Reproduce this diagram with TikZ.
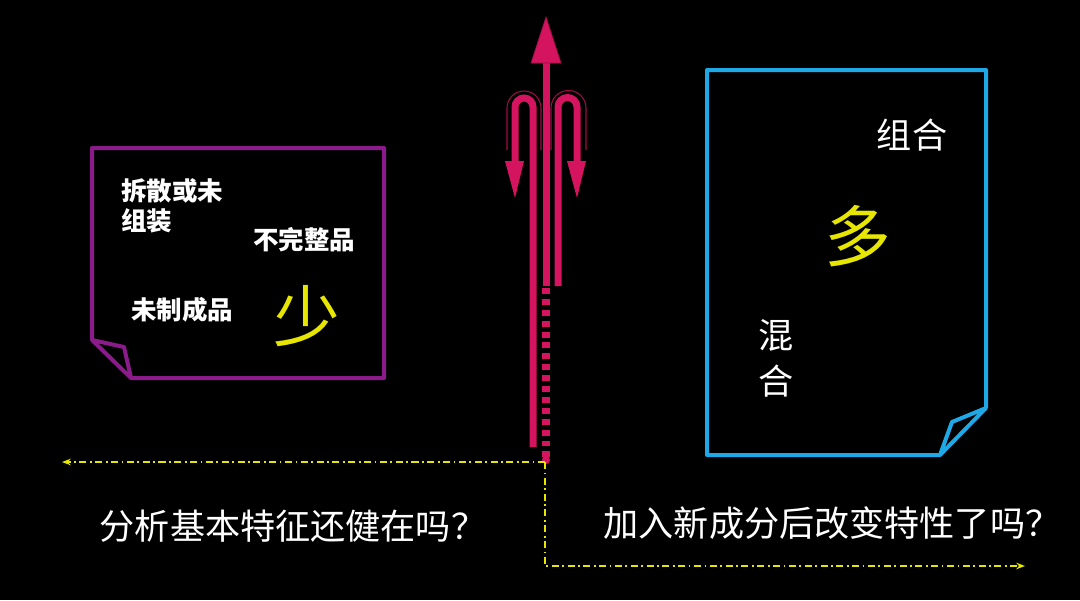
\documentclass[tikz,border=0pt]{standalone}
\usepackage{fontspec}
\newfontfamily\cjk{Noto Sans CJK SC}
\usetikzlibrary{arrows.meta}
\definecolor{mag}{HTML}{D4145F}
\definecolor{magd}{HTML}{A00C48}
\definecolor{pur}{HTML}{8B1A8B}
\definecolor{cya}{HTML}{1EA8E6}
\definecolor{yel}{HTML}{E6E600}
\tikzset{
 lbl/.style={text=white,font=\cjk\bfseries\fontsize{14.5}{17}\selectfont,align=left,inner sep=0pt},
 lbl2/.style={text=white,font=\cjk\fontsize{20}{24}\selectfont,align=center,inner sep=0pt},
 big/.style={text=yel,font=\cjk\fontsize{38}{42}\selectfont,inner sep=0pt},
 guide/.style={yel,line width=0.7pt,dash pattern=on 4pt off 2pt on 1pt off 2pt},
 band/.style={mag,line width=7*0.02cm},
 head/.style={fill=mag,draw=magd,line width=0.4pt}
}
\begin{document}
\begin{tikzpicture}[x=0.02cm,y=-0.02cm]
\fill[black] (0,0) rectangle (1080,600);
\useasboundingbox (0,0) rectangle (1080,600);
% left box
\draw[pur,line width=4*0.02cm,line join=round] (92,340)--(92,148)--(384,148)--(384,378)--(131,378)--(92,340)--(124,347)--(131,378);
% right box
\draw[cya,line width=4*0.02cm,line join=round] (986,408)--(986,70)--(707,70)--(707,455)--(940,455)--(986,408)--(952,422)--(940,455);
% center arrows
\draw[band] (546,286)--(546,58);
\draw[head] (546,17)--(561,63)--(531,63)--cycle;
\draw[mag,line width=8*0.02cm,dash pattern=on 3.4pt off 2.8pt] (546,288)--(546,458);
\fill[mag] (546,460) circle (4);
\draw[band] (533,447)--(533,107) arc(0:-180:9)--(515,165);
\draw[band] (558,286)--(558,107) arc(-180:0:9.5)--(577,165);
\draw[magd,line width=0.6pt] (507,150)--(507,108) arc(-180:0:17)--(541,150);
\draw[magd,line width=0.6pt] (551,150)--(551,108) arc(-180:0:17.5)--(586,150);
\fill[mag] (505,161)--(524,161)--(515,198)--cycle;
\fill[mag] (567,161)--(586,161)--(577,198)--cycle;
% guides
\coordinate (o) at (545,462);
\coordinate (l) at (62,462);
\coordinate (d) at (545,566);
\coordinate (r) at (1025,566);
\draw[guide,-{Stealth[length=5pt]}] (o)--(l);
\draw[guide,-{Stealth[length=5pt]}] (o)--(d)--(r);
% texts
\node[lbl,anchor=north west] (t1) at (121,178) {拆散或未\\组装};
\node[lbl] (t2) at (304,240) {不完整品};
\node[lbl] (t3) at (182,310) {未制成品};
\node[big] (s) at (307,316) {少};
\node[lbl2] (t4) at (912,135) {组合};
\node[big] (m) at (858,236) {多};
\node[lbl2] (t5) at (776,335) {混};
\node[lbl2] (t6) at (776,381) {合};
\node[lbl2] (q1) at (293,526) {分析基本特征还健在吗？};
\node[lbl2] (q2) at (832,523) {加入新成分后改变特性了吗？};
\end{tikzpicture}
\end{document}
